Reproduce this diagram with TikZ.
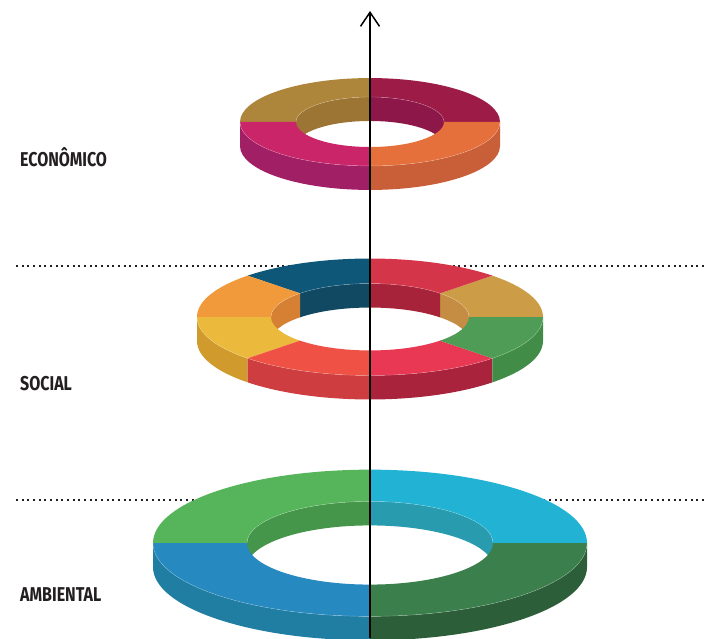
\documentclass[tikz,border=0pt]{standalone}
\usepackage{fontspec}
\usepackage{tikz}
\usetikzlibrary{arrows.meta}
\newfontfamily\labelfont[FakeStretch=0.8]{Fira Sans}

% ring colours: top face / side or wall
\definecolor{ecoGold}{HTML}{AE863B}   \definecolor{ecoGoldW}{HTML}{9C7535}
\definecolor{ecoWine}{HTML}{9C1B47}   \definecolor{ecoWineW}{HTML}{8C1748}
\definecolor{ecoPink}{HTML}{CA2569}   \definecolor{ecoPinkS}{HTML}{A11F65}
\definecolor{ecoOrange}{HTML}{E5703B} \definecolor{ecoOrangeS}{HTML}{C95F38}

\definecolor{socTan}{HTML}{CD9C47}    \definecolor{socTanW}{HTML}{C48D43}
\definecolor{socRed}{HTML}{D43549}    \definecolor{socRedW}{HTML}{A72339}
\definecolor{socNavy}{HTML}{0E5779}   \definecolor{socNavyW}{HTML}{114862}
\definecolor{socOrange}{HTML}{F09A3B} \definecolor{socOrangeW}{HTML}{D58033}
\definecolor{socYellow}{HTML}{EBB93B} \definecolor{socYellowS}{HTML}{D09A2C}
\definecolor{socCoral}{HTML}{EF5244}  \definecolor{socCoralS}{HTML}{CE3D3F}
\definecolor{socRose}{HTML}{E93853}   \definecolor{socRoseS}{HTML}{A8233B}
\definecolor{socGreen}{HTML}{4E9C55}  \definecolor{socGreenS}{HTML}{418D48}

\definecolor{ambCyan}{HTML}{22B2D4}   \definecolor{ambCyanW}{HTML}{289CAE}
\definecolor{ambGreen}{HTML}{56B55B}  \definecolor{ambGreenW}{HTML}{45964A}
\definecolor{ambBlue}{HTML}{2689C0}   \definecolor{ambBlueS}{HTML}{207EA3}
\definecolor{ambForest}{HTML}{3B7F4C} \definecolor{ambForestS}{HTML}{2D5E3A}

\definecolor{labelgray}{HTML}{231F20}

% centre x, centre y, outer x radius, inner x radius, thickness
\newcommand{\setring}[5]{\def\cx{#1}\def\cy{#2}\def\Rx{#3}\def\rx{#4}\def\thk{#5}%
  \pgfmathsetmacro\Ry{0.338*#3}\pgfmathsetmacro\ry{0.338*#4}}
% top face of a sector
\newcommand{\ringface}[3]{\fill[#3] ({\cx+\Rx*cos(#1)},{\cy+\Ry*sin(#1)})
  arc[start angle=#1,end angle=#2,x radius=\Rx pt,y radius=\Ry pt]
  -- ({\cx+\rx*cos(#2)},{\cy+\ry*sin(#2)})
  arc[start angle=#2,end angle=#1,x radius=\rx pt,y radius=\ry pt] -- cycle;}
% outer side, front half
\newcommand{\ringside}[3]{\fill[#3] ({\cx+\Rx*cos(#1)},{\cy+\Ry*sin(#1)})
  arc[start angle=#1,end angle=#2,x radius=\Rx pt,y radius=\Ry pt]
  -- ++(0,-\thk) arc[start angle=#2,end angle=#1,x radius=\Rx pt,y radius=\Ry pt] -- cycle;}
% inner wall, back half
\newcommand{\ringwall}[3]{\fill[#3] ({\cx+\rx*cos(#1)},{\cy+\ry*sin(#1)})
  arc[start angle=#1,end angle=#2,x radius=\rx pt,y radius=\ry pt]
  -- ++(0,-\thk) arc[start angle=#2,end angle=#1,x radius=\rx pt,y radius=\ry pt] -- cycle;}
% light seams along the edges
\newcommand{\ringseams}{%
  \draw[seam] ({\cx-\Rx},\cy) arc[start angle=180,end angle=360,x radius=\Rx pt,y radius=\Ry pt];
  \draw[seam] ({\cx+\rx},\cy) arc[start angle=0,end angle=180,x radius=\rx pt,y radius=\ry pt];}

\begin{document}
\begin{tikzpicture}[x=1pt, y=1pt,
    seam/.style={white, opacity=0.35, line width=0.4pt},
    dotline/.style={labelgray, line width=2pt, dash pattern=on 2pt off 3.67pt},
    level/.style={anchor=base west, inner sep=0pt, text=labelgray, font=\labelfont\bfseries\fontsize{20}{20}\selectfont},
    axis/.style={line width=1.5pt, -{Straight Barb[length=14pt, width=19pt]}}]
  \useasboundingbox (0,0) rectangle (706,638);

  % dotted separators
  \coordinate (sepAl) at (16,371.5);  \coordinate (sepAr) at (706,371.5);
  \coordinate (sepBl) at (16,138.5);  \coordinate (sepBr) at (706,138.5);
  \draw[dotline] (sepAl) -- (sepAr);
  \draw[dotline] (sepBl) -- (sepBr);

  % economic ring
  \setring{370}{516}{130}{74}{24}
  \foreach \a/\b/\c in {0/90/ecoWineW, 90/180/ecoGoldW} {\ringwall{\a}{\b}{\c}}
  \foreach \a/\b/\c in {180/270/ecoPinkS, 270/360/ecoOrangeS} {\ringside{\a}{\b}{\c}}
  \foreach \a/\b/\c in {0/90/ecoWine, 90/180/ecoGold, 180/270/ecoPink, 270/360/ecoOrange} {\ringface{\a}{\b}{\c}}
  \ringseams

  % social ring
  \setring{370}{321}{173}{99}{24}
  \foreach \a/\b/\c in {0/45/socTanW, 45/90/socRedW, 90/135/socNavyW, 135/180/socOrangeW} {\ringwall{\a}{\b}{\c}}
  \foreach \a/\b/\c in {180/225/socYellowS, 225/270/socCoralS, 270/315/socRoseS, 315/360/socGreenS} {\ringside{\a}{\b}{\c}}
  \foreach \a/\b/\c in {0/45/socTan, 45/90/socRed, 90/135/socNavy, 135/180/socOrange,
      180/225/socYellow, 225/270/socCoral, 270/315/socRose, 315/360/socGreen} {\ringface{\a}{\b}{\c}}
  \ringseams

  % environmental ring
  \setring{370}{95}{217}{123}{24}
  \foreach \a/\b/\c in {0/90/ambCyanW, 90/180/ambGreenW} {\ringwall{\a}{\b}{\c}}
  \foreach \a/\b/\c in {180/270/ambBlueS, 270/360/ambForestS} {\ringside{\a}{\b}{\c}}
  \foreach \a/\b/\c in {0/90/ambCyan, 90/180/ambGreen, 180/270/ambBlue, 270/360/ambForest} {\ringface{\a}{\b}{\c}}
  \ringseams

  % labels
  \node[level] (eco) at (20,471.3) {ECONÔMICO};
  \node[level] (soc) at (20,247.3) {SOCIAL};
  \node[level] (amb) at (20,36.7) {AMBIENTAL};

  % vertical axis
  \coordinate (axisfoot) at (370,0);
  \coordinate (axistip) at (370,627);
  \draw[axis] (axisfoot) -- (axistip);
\end{tikzpicture}
\end{document}
